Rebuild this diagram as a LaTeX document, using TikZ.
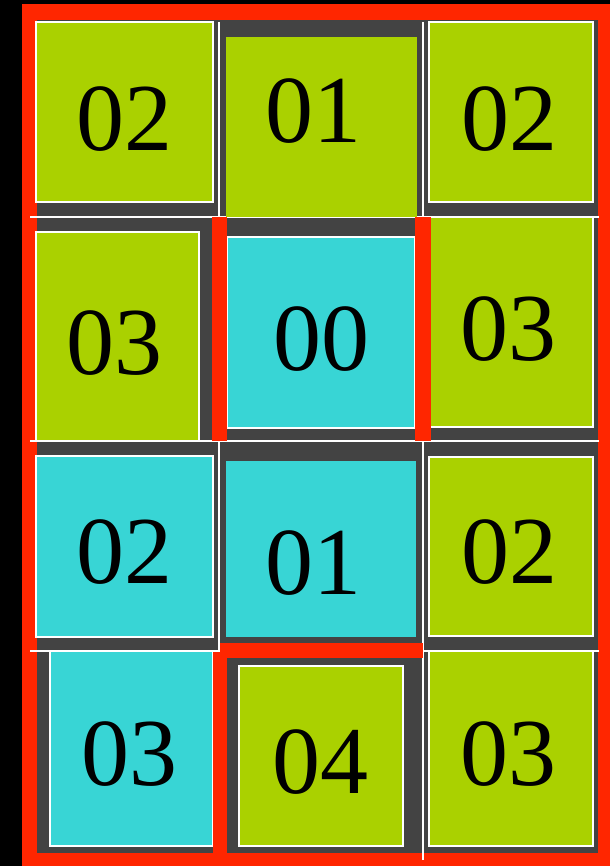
\documentclass[tikz,border=0pt]{standalone}
\usepackage{fontspec}
\setmainfont{Liberation Serif}
\usepackage{tikz}
\usetikzlibrary{positioning}
\usepackage{xcolor}

\definecolor{frameRed}{RGB}{255,38,0}
\definecolor{slate}{RGB}{67,67,67}
\definecolor{lime}{RGB}{170,209,0}
\definecolor{aqua}{RGB}{56,213,213}

\begin{document}
\begin{tikzpicture}[x=1pt, y=-1pt,
    tileG/.style={fill=lime},
    tileC/.style={fill=aqua},
    rim/.style={draw=white, line width=1.3pt},
    gridline/.style={draw=white, line width=1.2pt},
    redbar/.style={fill=frameRed},
    num/.style={font=\fontsize{96}{100}\selectfont, inner sep=0pt, text=black}]

    % --- BACKGROUND AND FRAME ---
    \useasboundingbox (0,0) rectangle (610,866);
    \fill[black] (0,0) rectangle (610,866);
    \fill[frameRed] (22,4) rectangle (610,866);
    \fill[slate] (37,20) rectangle (598,853);

    % grid lines
    \draw[gridline] (30,217) -- (599,217);
    \draw[gridline] (30,441) -- (599,441);
    \draw[gridline] (30,651) -- (599,651);
    \draw[gridline] (219,22) -- (219,651);
    \draw[gridline] (423,22) -- (423,860);

    % --- ROW 1 ---
    \draw[tileG, rim] (36,22) rectangle (213,202);
    \fill[tileG] (226,37) rectangle (417,217);
    \draw[tileG, rim] (429,22) rectangle (593,202);

    % --- ROW 2 ---
    \draw[tileG, rim] (36,232) rectangle (199,441);
    \draw[tileC, rim] (227,237) rectangle (415,428);
    \draw[tileG, rim] (429,217) rectangle (593,427);

    % --- ROW 3 ---
    \draw[tileC, rim] (36,456) rectangle (213,637);
    \fill[tileC] (226,461) rectangle (416,637);
    \draw[tileG, rim] (429,457) rectangle (593,636);

    % --- ROW 4 ---
    \draw[tileC, rim] (50,651) rectangle (213,846);
    \draw[tileG, rim] (239,666) rectangle (403,846);
    \draw[tileG, rim] (429,651) rectangle (593,846);

    % red walls
    \fill[redbar] (212,217) rectangle (227,441);
    \fill[redbar] (415,217) rectangle (431,441);
    \fill[redbar] (220,643) rectangle (423,658);
    \fill[redbar] (213,652) rectangle (227,853);

    % --- LABELS ---
    \node[num] (lab11) at (124,119) {02};
    \node[num] (lab12) at (313.5,111.5) {01};
    \node[num] (lab13) at (509,119) {02};
    \node[num] (lab21) at (114.5,343) {03};
    \node[num] (lab22) at (321.5,339.5) {00};
    \node[num] (lab23) at (508,329) {03};
    \node[num] (lab31) at (124,552.5) {02};
    \node[num] (lab32) at (313.5,563.5) {01};
    \node[num] (lab33) at (509,552.5) {02};
    \node[num] (lab41) at (129,754.5) {03};
    \node[num] (lab42) at (320,762) {04};
    \node[num] (lab43) at (508,754.5) {03};

\end{tikzpicture}
\end{document}
